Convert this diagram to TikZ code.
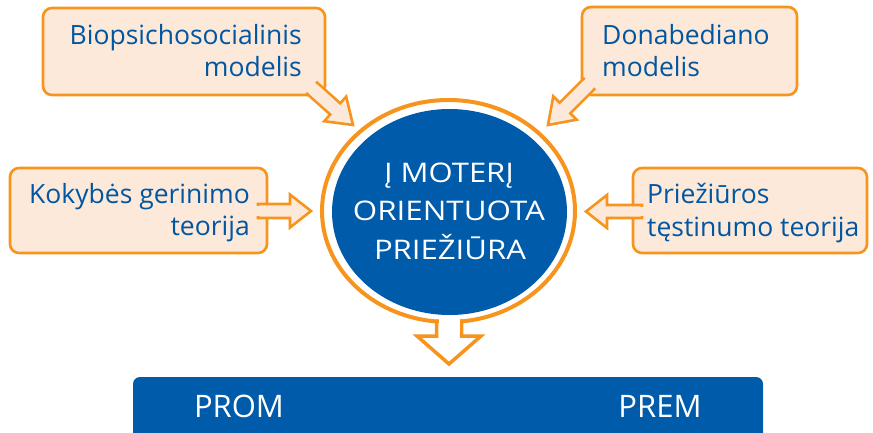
\documentclass[tikz,border=0pt]{standalone}
\usepackage{fontspec}
\usepackage{graphicx}
\setmainfont{Open Sans}
\usetikzlibrary{shapes.geometric}
\definecolor{mblue}{RGB}{0,91,170}
\definecolor{tblue}{RGB}{0,86,160}
\definecolor{morange}{RGB}{247,148,29}
\definecolor{peach}{RGB}{253,233,218}
\newcommand{\coreline}[2]{\resizebox{#1}{\height}{\fontsize{27}{32}\selectfont #2}}
\tikzset{
  callbox/.style={draw=morange, fill=peach, line width=2.6pt, rounded corners=9pt, inner sep=0pt},
  callarrow/.style={draw=morange, fill=peach, line width=2.6pt, line join=miter},
  callcover/.style={fill=peach, draw=none},
  calltext/.style={text=tblue, font=\fontsize{26.5}{32}\selectfont, inner sep=0pt},
  coretext/.style={text=white, inner sep=0pt, anchor=base},
  bartext/.style={text=white, font=\fontsize{31}{36}\selectfont, inner sep=0pt, anchor=base}
}
\begin{document}
\begin{tikzpicture}[x=1pt, y=-1pt]
\clip (0,0) rectangle (873,433);
\fill[white] (0,0) rectangle (873,433);

% ---- top-left callout
\node[callbox, minimum width=282pt, minimum height=87pt] (tlbox) at (184,51.5) {};
\path[callarrow] (307.1,93.8) -- (330.2,114.5) -- (324.2,121.2) -- (353,125) -- (346.2,96.6) -- (340.2,103.3) -- (317.1,82.6) -- cycle;
\path[callcover] (306.6,91.4) -- (325.2,108.1) -- (333.2,99.1) -- (314.6,82.4) -- cycle;
\node[calltext, anchor=base east] (tl1) at (302,45) {Biopsichosocialinis};
\node[calltext, anchor=base east] (tl2) at (302,77) {modelis};

% ---- top-right callout
\node[callbox, minimum width=215pt, minimum height=88pt] (trbox) at (689.5,51) {};
\path[callarrow] (594.3,89.3) -- (570.3,113.3) -- (576.7,119.7) -- (548,125) -- (553.3,96.3) -- (559.7,102.7) -- (583.7,78.7) -- cycle;
\path[callcover] (594.6,86.8) -- (575.5,105.9) -- (567.1,97.5) -- (586.2,78.4) -- cycle;
\node[calltext, anchor=base west] (tr1) at (602,45) {Donabediano};
\node[calltext, anchor=base west] (tr2) at (602,77) {modelis};

% ---- left-middle callout
\node[callbox, minimum width=257pt, minimum height=85pt] (lmbox) at (138.5,210.5) {};
\path[callarrow] (258,204) -- (290,204) -- (290,194.5) -- (311,211) -- (290,227.5) -- (290,218) -- (258,218) -- cycle;
\path[callcover] (255,206) rectangle (271,216);
\node[calltext, anchor=base east] (lm1) at (250,203) {Kokybės gerinimo};
\node[calltext, anchor=base east] (lm2) at (250,235) {teorija};

% ---- right-middle callout
\node[callbox, minimum width=234pt, minimum height=85pt] (rmbox) at (750,210.5) {};
\path[callarrow] (642,205) -- (607,205) -- (607,195) -- (586,211.5) -- (607,228) -- (607,218) -- (642,218) -- cycle;
\path[callcover] (629,207) rectangle (645,216);
\node[calltext, anchor=base west] (rm1) at (647,204) {Priežiūros};
\node[calltext, anchor=base west] (rm2) at (647,236) {tęstinumo teorija};

% ---- central ring with down arrow
\node[ellipse, draw=morange, fill=white, line width=4pt, minimum width=253pt, minimum height=222pt, inner sep=0pt] (ring) at (448.5,211) {};
\path[draw=morange, fill=white, line width=3.5pt, line join=miter] (436.5,321) -- (436.5,336) -- (417,336) -- (449,364) -- (481,336) -- (461.5,336) -- (461.5,321) -- cycle;
\fill[white] (438.5,317.5) rectangle (459.5,331);
\node[ellipse, fill=mblue, minimum width=235pt, minimum height=206pt, inner sep=0pt] (core) at (449.5,212) {};
\node[coretext] (c1) at (449,182.5) {\coreline{130pt}{Į MOTERĮ}};
\node[coretext] (c2) at (449,221) {\coreline{192pt}{ORIENTUOTA}};
\node[coretext] (c3) at (450,259.5) {\coreline{152pt}{PRIEŽIŪRA}};

% ---- bottom bar
\node[fill=mblue, rounded corners=7pt, minimum width=630pt, minimum height=70pt, inner sep=0pt] (bar) at (448,412) {};
\node[bartext] (prom) at (239,417) {PROM};
\node[bartext] (prem) at (660,417) {PREM};
\end{tikzpicture}
\end{document}
